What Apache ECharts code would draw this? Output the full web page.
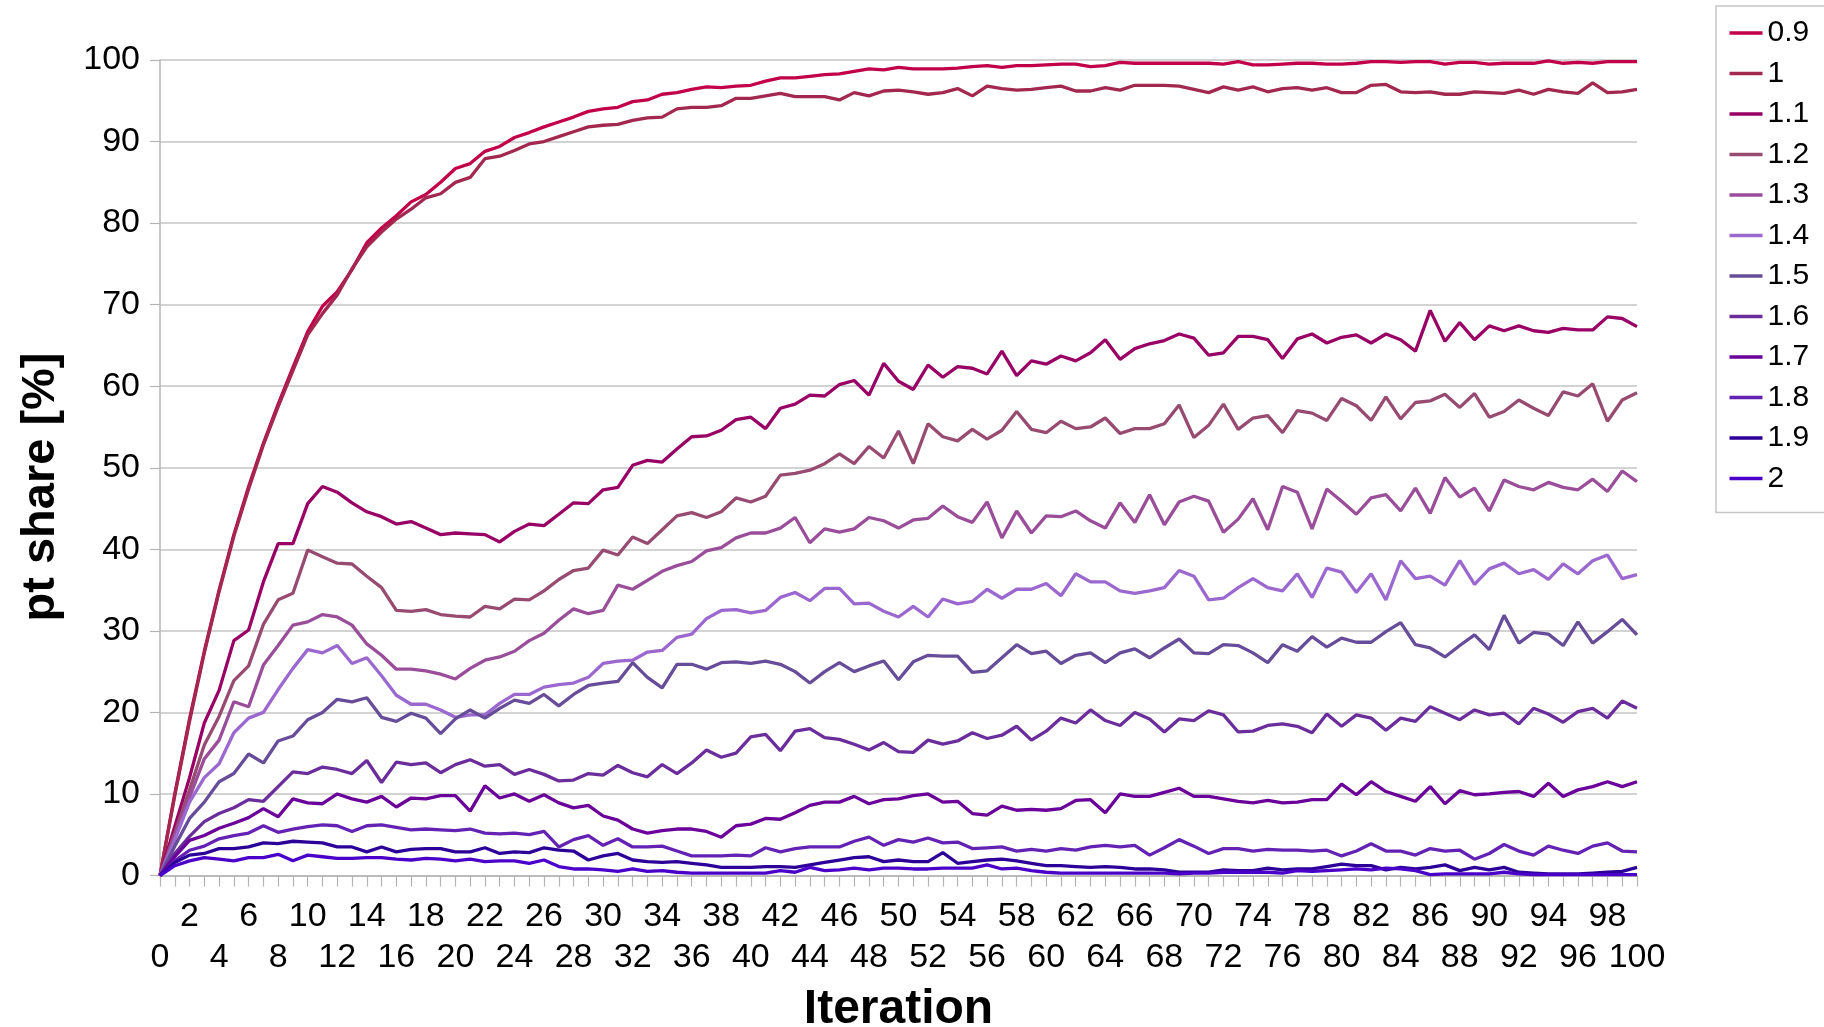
<!DOCTYPE html>
<html>
<head>
<meta charset="utf-8">
<script src="https://cdn.jsdelivr.net/npm/echarts/dist/echarts.min.js"></script>
<style>
html,body{margin:0;padding:0;background:#fff;}
#chart{width:1824px;height:1027px;}
</style>
</head>
<body>
<div id="chart"></div>
<script>
const iterations = Array.from({length: 101}, (_, i) => String(i));
const seriesNames = ['0.9','1','1.1','1.2','1.3','1.4','1.5','1.6','1.7','1.8','1.9','2'];
const seriesColors = ['#C2004A','#A2284F','#990066','#984B71','#9A4E9A','#9A68CF','#674C99','#6B2D9B','#6A0099','#6422B4','#2C0098','#4B00C9'];

const s09 = [0,10,19.2,27.5,35,41.8,47.7,53,57.8,62.3,
66.7,69.8,71.6,74.3,77.6,79.4,80.9,82.6,83.5,85,
86.7,87.3,88.8,89.4,90.5,91.1,91.8,92.4,93,93.7,
94,94.2,94.9,95.1,95.8,96,96.4,96.7,96.6,96.8,
96.9,97.4,97.8,97.8,98,98.2,98.3,98.6,98.9,98.8,
99.1,98.9,98.9,98.9,99,99.2,99.3,99.1,99.3,99.3,
99.4,99.5,99.5,99.2,99.3,99.7,99.6,99.6,99.6,99.6,
99.6,99.6,99.5,99.8,99.4,99.4,99.5,99.6,99.6,99.5,
99.5,99.6,99.8,99.8,99.7,99.8,99.8,99.5,99.7,99.7,
99.5,99.6,99.6,99.6,99.9,99.6,99.7,99.6,99.8,99.8,
99.8];
const s10 = [0,9.8,18.9,27.3,34.8,41.6,47.4,52.8,57.5,61.9,
66.3,68.9,71.2,74.4,77.1,78.9,80.5,81.7,83.1,83.6,
85,85.6,87.9,88.2,88.9,89.7,90,90.6,91.2,91.8,
92,92.1,92.6,92.9,93,94,94.2,94.2,94.4,95.3,
95.3,95.6,95.9,95.5,95.5,95.5,95.1,96,95.6,96.2,
96.3,96.1,95.8,96,96.5,95.6,96.8,96.5,96.3,96.4,
96.6,96.8,96.2,96.2,96.6,96.3,96.9,96.9,96.9,96.8,
96.4,96,96.7,96.3,96.7,96.1,96.5,96.6,96.3,96.6,
96,96,96.9,97,96.1,96,96.1,95.8,95.8,96.1,
96,95.9,96.3,95.8,96.4,96.1,95.9,97.2,96,96.1,
96.4];
const s11 = [0,6,12,18.7,22.7,28.8,30.1,36,40.7,40.7,
45.6,47.7,47,45.7,44.6,44,43.1,43.4,42.6,41.8,
42,41.9,41.8,40.9,42.2,43.1,42.9,44.3,45.7,45.6,
47.3,47.6,50.3,50.9,50.7,52.3,53.8,53.9,54.6,55.9,
56.2,54.8,57.3,57.8,58.9,58.8,60.2,60.7,58.9,62.8,
60.6,59.6,62.6,61.1,62.4,62.2,61.5,64.3,61.3,63.1,
62.7,63.7,63.1,64.1,65.7,63.3,64.6,65.2,65.6,66.4,
65.9,63.8,64.1,66.1,66.1,65.7,63.4,65.8,66.4,65.3,
66,66.3,65.3,66.4,65.7,64.3,69.3,65.5,67.8,65.7,
67.4,66.8,67.4,66.8,66.6,67.1,66.9,66.9,68.5,68.3,
67.3];
const s12 = [0,5.2,10.5,16,19.5,23.9,25.7,30.8,33.8,34.6,
39.9,39.1,38.3,38.2,36.7,35.3,32.5,32.4,32.6,32,
31.8,31.7,33,32.7,33.9,33.8,34.9,36.3,37.4,37.7,
39.9,39.3,41.5,40.7,42.4,44.1,44.5,43.9,44.6,46.3,
45.8,46.5,49.1,49.3,49.7,50.5,51.7,50.5,52.6,51.2,
54.5,50.5,55.4,53.8,53.3,54.7,53.5,54.6,56.9,54.7,
54.3,55.7,54.8,55,56.1,54.2,54.8,54.8,55.4,57.7,
53.7,55.2,57.8,54.7,56.1,56.4,54.3,57,56.7,55.8,
58.5,57.6,55.8,58.7,56,58,58.2,59,57.4,59.1,
56.2,56.9,58.3,57.3,56.4,59.3,58.8,60.3,55.7,58.3,
59.2];
const s13 = [0,4.8,9.6,14.3,16.6,21.3,20.7,25.8,28.2,30.7,
31.1,32,31.7,30.7,28.4,27,25.3,25.3,25.1,24.7,
24.1,25.4,26.4,26.8,27.5,28.8,29.7,31.3,32.7,32.1,
32.5,35.6,35.1,36.2,37.3,38,38.5,39.8,40.2,41.4,
42,42,42.6,43.9,40.8,42.5,42.1,42.5,43.9,43.5,
42.6,43.6,43.8,45.3,44,43.3,45.8,41.4,44.7,42,
44.1,44,44.7,43.5,42.6,45.7,43.3,46.7,43,45.8,
46.5,45.9,42.1,43.7,46.2,42.4,47.7,47,42.5,47.4,
45.9,44.3,46.3,46.7,44.7,47.5,44.4,48.8,46.4,47.5,
44.7,48.5,47.7,47.3,48.2,47.6,47.3,48.6,47.1,49.6,
48.3];
const s14 = [0,4.4,9,12,13.7,17.5,19.3,20,22.8,25.4,
27.7,27.3,28.2,26,26.7,24.5,22.1,21,21,20.3,
19.4,19.7,19.7,21.1,22.2,22.2,23.1,23.4,23.6,24.3,
26,26.3,26.4,27.4,27.6,29.2,29.6,31.5,32.5,32.6,
32.2,32.5,34.1,34.7,33.7,35.2,35.2,33.3,33.4,32.4,
31.7,33,31.7,33.9,33.3,33.6,35.1,34,35.1,35.1,
35.8,34.3,37,36,36,34.9,34.6,34.9,35.3,37.4,
36.7,33.8,34,35.3,36.4,35.3,34.9,37,34.1,37.7,
37.2,34.7,37,33.8,38.6,36.4,36.7,35.6,38.6,35.7,
37.6,38.3,37,37.5,36.3,38.2,37,38.6,39.3,36.4,
36.9];
const s15 = [0,3.6,7,9,11.5,12.5,14.9,13.8,16.5,17.1,
19.1,20,21.6,21.3,21.8,19.4,18.9,19.9,19.3,17.4,
19.2,20.3,19.3,20.5,21.5,21.1,22.2,20.8,22.2,23.3,
23.6,23.8,26.1,24.3,23,25.9,25.9,25.3,26.1,26.2,
26,26.3,25.9,25,23.6,25,26.1,25,25.7,26.3,
24,26.2,27,26.9,26.9,24.9,25.1,26.7,28.3,27.2,
27.5,26,27,27.3,26.1,27.3,27.8,26.7,27.9,29,
27.3,27.2,28.3,28.2,27.3,26.1,28.3,27.5,29.3,28,
29.1,28.6,28.6,29.9,31,28.3,27.9,26.8,28.2,29.5,
27.7,31.9,28.5,29.8,29.6,28.2,31.1,28.5,29.9,31.4,
29.5];
const s16 = [0,2.7,4.8,6.6,7.6,8.3,9.3,9.1,10.9,12.7,
12.5,13.3,13,12.5,14.1,11.4,13.9,13.6,13.8,12.6,
13.6,14.2,13.4,13.6,12.4,13,12.4,11.6,11.7,12.5,
12.3,13.5,12.6,12.1,13.6,12.5,13.8,15.4,14.5,15,
17,17.3,15.3,17.7,18,16.9,16.7,16.1,15.4,16.3,
15.2,15.1,16.6,16.1,16.5,17.5,16.8,17.2,18.3,16.6,
17.7,19.3,18.7,20.3,19,18.4,20,19.2,17.6,19.2,
19,20.2,19.7,17.6,17.7,18.4,18.6,18.3,17.5,19.8,
18.3,19.7,19.3,17.8,19.3,18.9,20.7,19.9,19.1,20.3,
19.7,19.9,18.6,20.5,19.8,18.8,20.1,20.5,19.3,21.4,
20.5];
const s17 = [0,2.3,4.3,4.9,5.8,6.4,7.1,8.2,7.2,9.4,
8.9,8.8,10,9.4,9,9.7,8.4,9.5,9.4,9.8,
9.8,7.9,11,9.5,10,9.1,9.9,8.9,8.3,8.6,
7.3,6.8,5.7,5.2,5.5,5.7,5.7,5.4,4.7,6.1,
6.3,7,6.9,7.7,8.6,9,9,9.7,8.8,9.3,
9.4,9.8,10,9,9.1,7.6,7.4,8.5,8,8.1,
8,8.2,9.2,9.3,7.7,10,9.7,9.7,10.2,10.7,
9.7,9.7,9.4,9.1,8.9,9.2,8.9,9,9.3,9.3,
11.2,9.9,11.5,10.3,9.7,9.1,10.9,8.8,10.4,9.9,
10,10.2,10.3,9.7,11.3,9.7,10.5,10.9,11.5,10.9,
11.5];
const s18 = [0,1.8,3.1,3.6,4.5,4.9,5.2,6.1,5.3,5.7,
6,6.2,6.1,5.4,6.1,6.2,5.9,5.6,5.7,5.6,
5.5,5.7,5.2,5.1,5.2,5,5.4,3.5,4.4,4.9,
3.7,4.5,3.5,3.5,3.6,3,2.4,2.4,2.4,2.5,
2.4,3.4,2.9,3.3,3.5,3.5,3.5,4.2,4.7,3.7,
4.4,4.1,4.6,4,4.1,3.3,3.4,3.5,3,3.2,
3,3.3,3.1,3.5,3.7,3.5,3.7,2.5,3.4,4.4,
3.6,2.7,3.3,3.3,3,3.2,3.1,3.1,3,3.1,
2.4,3,3.9,3,3,2.5,3.3,3,3.1,2,
2.7,3.8,3,2.5,3.6,3.1,2.7,3.6,4,3,
2.9];
const s19 = [0,1.6,2.5,2.7,3.3,3.3,3.5,4,3.9,4.2,
4.1,4,3.5,3.5,2.9,3.5,2.9,3.2,3.3,3.3,
2.9,2.9,3.4,2.7,2.9,2.8,3.4,3.1,3,1.9,
2.4,2.7,1.9,1.7,1.6,1.7,1.5,1.3,1,1,
1,1.1,1.1,1,1.3,1.6,1.9,2.2,2.3,1.7,
1.9,1.7,1.7,2.8,1.5,1.7,1.9,2,1.8,1.5,
1.2,1.2,1.1,1,1.1,1,0.8,0.8,0.7,0.4,
0.4,0.4,0.7,0.6,0.6,0.9,0.7,0.8,0.8,1.1,
1.4,1.2,1.2,0.7,1,0.8,1,1.3,0.6,1,
0.7,1,0.4,0.3,0.2,0.2,0.2,0.3,0.4,0.5,
1];
const s20 = [0,1.2,1.8,2.2,2,1.8,2.2,2.2,2.6,1.8,
2.5,2.3,2.1,2.1,2.2,2.2,2,1.9,2.1,2,
1.8,2,1.7,1.8,1.8,1.5,1.9,1.1,0.8,0.8,
0.7,0.5,0.8,0.5,0.6,0.4,0.3,0.3,0.3,0.3,
0.3,0.3,0.6,0.4,1,0.6,0.7,0.9,0.7,0.9,
0.9,0.8,0.8,0.9,0.9,0.9,1.3,0.8,0.9,0.6,
0.4,0.3,0.3,0.3,0.3,0.3,0.3,0.3,0.3,0.2,
0.3,0.3,0.4,0.4,0.4,0.4,0.3,0.6,0.5,0.6,
0.7,0.8,0.7,0.9,0.8,0.6,0.1,0.2,0.2,0.2,
0.2,0.4,0.2,0.1,0.1,0.1,0.1,0.1,0.1,0.1,
0.1];

const seriesData = [s09, s10, s11, s12, s13, s14, s15, s16, s17, s18, s19, s20];

const FONT = '"Liberation Sans", Arial, Helvetica, sans-serif';
const chart = echarts.init(document.getElementById('chart'), null, {renderer: 'canvas'});

const option = {
  animation: false,
  backgroundColor: '#ffffff',
  grid: {left: 160, right: 187, top: 60, bottom: 151.5, containLabel: false, outerBoundsMode: 'none'},
  legend: {
    orient: 'vertical',
    left: 1716,
    top: 6,
    data: seriesNames,
    icon: 'rect',
    itemWidth: 33,
    itemHeight: 3.5,
    itemGap: 10.5,
    padding: [12, 24, 19, 13.5],
    borderColor: '#c6c6c6',
    borderWidth: 1.5,
    backgroundColor: '#ffffff',
    textStyle: {fontSize: 30, lineHeight: 30, color: '#000', fontFamily: FONT}
  },
  xAxis: {
    type: 'category',
    data: iterations,
    boundaryGap: false,
    axisLine: {show: true, lineStyle: {color: '#b4b4b4', width: 1.5}},
    axisTick: {show: true, interval: 0, length: 11, lineStyle: {color: '#b4b4b4', width: 1.2}},
    axisLabel: {
      interval: 0,
      hideOverlap: false,
      margin: 21,
      fontSize: 34,
      lineHeight: 41,
      color: '#000',
      fontFamily: FONT,
      formatter: function (v, idx) {
        if (idx % 4 === 2) return v;
        if (idx % 4 === 0) return '\n' + v;
        return '';
      }
    },
    splitLine: {show: false},
    name: 'Iteration',
    nameLocation: 'middle',
    nameGap: 110,
    nameTextStyle: {fontSize: 48, fontWeight: 'bold', color: '#000', fontFamily: FONT}
  },
  yAxis: {
    type: 'value',
    min: 0,
    max: 100,
    interval: 10,
    axisLine: {show: true, lineStyle: {color: '#b4b4b4', width: 1.5}},
    axisTick: {show: true, length: 10, lineStyle: {color: '#b4b4b4', width: 1.2}},
    axisLabel: {margin: 20, fontSize: 34, color: '#000', fontFamily: FONT},
    splitLine: {show: true, lineStyle: {color: '#c4c4c4', width: 1.5}}
  },
  graphic: [{
    type: 'text',
    x: 41,
    y: 487,
    rotation: Math.PI / 2,
    style: {
      text: 'pt share [%]',
      font: 'bold 47px "Liberation Sans", Arial, sans-serif',
      fill: '#000',
      align: 'center',
      verticalAlign: 'middle',
      textAlign: 'center',
      textVerticalAlign: 'middle'
    }
  }],
  series: seriesNames.map((name, k) => ({
    name: name,
    type: 'line',
    data: seriesData[k],
    showSymbol: false,
    symbol: 'none',
    smooth: false,
    itemStyle: {color: seriesColors[k]},
    lineStyle: {color: seriesColors[k], width: 3.3},
    emphasis: {disabled: true}
  }))
};

chart.setOption(option);
</script>
</body>
</html>
